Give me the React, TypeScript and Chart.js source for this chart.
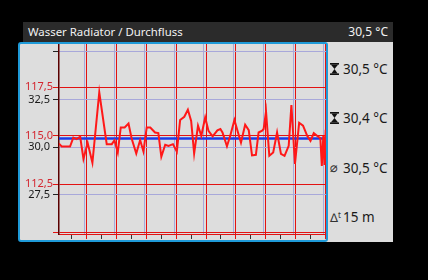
import React, { useEffect, useRef } from 'react';
import { Chart, registerables } from 'chart.js';

Chart.register(...registerables);

const FONT = '"Noto Sans", "DejaVu Sans", sans-serif';

const title = 'Wasser Radiator / Durchfluss';
const currentValue = '30,5 °C';
const statMax = '30,5 °C';
const statMin = '30,4 °C';
const statAvg = '30,5 °C';
const statSpan = '15 m';

// Durchfluss (red axis), time in seconds
const flowTimes = [
  7, 16, 44, 55, 66, 78, 89, 103, 119, 142,
  167, 184, 193, 204, 214, 227, 240, 251, 266, 279,
  290, 301, 313, 329, 340, 350, 363, 374, 389, 402,
  413, 427, 439, 450, 460, 473, 484, 497, 508, 522,
  538, 548, 555, 570, 581, 595, 607, 617, 631, 643,
  654, 667, 676, 688, 693, 701, 712, 725, 738, 751,
  763, 777, 786, 798, 812, 825, 839, 850, 861, 872,
  883, 888, 893, 897, 901,
];
const flowValues = [
  114.6, 114.45, 114.45, 114.91, 114.83, 114.95, 113.81, 114.64, 113.61, 117.24,
  114.57, 114.57, 114.77, 114.14, 115.43, 115.43, 115.63, 114.83, 114.09, 114.78,
  114.19, 115.43, 115.43, 115.17, 115.14, 113.92, 114.54, 114.48, 114.57, 114.19,
  115.81, 115.98, 116.34, 115.77, 114.09, 115.52, 115.0, 115.94, 115.26, 114.97,
  115.28, 115.35, 115.17, 114.46, 115.0, 115.81, 115.17, 114.65, 115.57, 115.29,
  113.99, 114.02, 115.17, 115.26, 115.35, 116.25, 113.97, 114.14, 115.17, 114.07,
  113.97, 114.48, 116.58, 113.55, 115.67, 115.52, 115.0, 114.74, 115.14, 115.0,
  114.87, 113.45, 115.0, 113.5, 115.31,
];

// Temperatur (black axis)
const tempTimes = [7, 902];
const tempValues = [30.46, 30.46];

const xMajorTicks = [100, 200, 300, 400, 500, 600, 700, 800, 900];
const xMinorTicks = [50, 150, 250, 350, 450, 550, 650, 750, 850];
const flowTicks = [110, 112.5, 115, 117.5];
const flowTickLabels = ['', '112,5', '115,0', '117,5'];
const tempTicks = [27.5, 30, 32.5, 35];
const tempTickLabels = ['27,5', '30,0', '32,5', ''];

const RED = 'rgb(226,18,18)';
const RED_TEXT = 'rgb(212,38,48)';
const LAVENDER = 'rgb(168,168,218)';

function IconMax() {
  return (
    <svg width="9" height="12" viewBox="0 0 9 12" style={{ display: 'block' }}>
      <rect x="0" y="0" width="9" height="1.6" fill="#111" />
      <polygon points="0.8,1.6 8.2,1.6 4.5,6" fill="#111" />
      <polygon points="4.5,6 7.6,10.4 1.4,10.4" fill="#111" />
      <rect x="0" y="10.4" width="9" height="1.6" fill="#111" />
    </svg>
  );
}

function IconMin() {
  return (
    <svg width="9" height="12" viewBox="0 0 9 12" style={{ display: 'block' }}>
      <rect x="0" y="0" width="9" height="1.6" fill="#111" />
      <polygon points="1.4,1.6 7.6,1.6 4.5,6" fill="#111" />
      <polygon points="4.5,6 8.2,10.4 0.8,10.4" fill="#111" />
      <rect x="0" y="10.4" width="9" height="1.6" fill="#111" />
    </svg>
  );
}

const noPad = (s: any) => {
  s.paddingTop = 0;
  s.paddingBottom = 0;
  s.paddingLeft = 0;
  s.paddingRight = 0;
};

const labelAreaPlugin = {
  id: 'labelArea',
  afterLayout(chart: any) {
    const s = chart.scales.y;
    if (s) s.left = s.right - 39;
  },
};

export default function App() {
  const ref = useRef<HTMLCanvasElement>(null);

  useEffect(() => {
    const chart = new Chart(ref.current as HTMLCanvasElement, {
      type: 'line',
      data: {
        datasets: [
          {
            data: flowTimes.map((t, i) => ({ x: t, y: flowValues[i] })),
            borderColor: 'rgb(255,24,24)',
            borderWidth: 2,
            pointRadius: 0,
            tension: 0,
            xAxisID: 'x',
            yAxisID: 'y',
            order: 0,
          },
          {
            data: tempTimes.map((t, i) => ({ x: t, y: tempValues[i] })),
            borderColor: 'rgb(28,58,230)',
            borderWidth: 2.5,
            pointRadius: 0,
            tension: 0,
            xAxisID: 'x',
            yAxisID: 'y2',
            order: 1,
          },
        ],
      },
      plugins: [labelAreaPlugin],
      options: {
        animation: false,
        responsive: false,
        maintainAspectRatio: false,
        events: [],
        layout: { padding: 0 },
        plugins: { legend: { display: false }, tooltip: { enabled: false } },
        scales: {
          x: {
            type: 'linear',
            position: 'bottom',
            min: 7,
            max: 902,
            afterBuildTicks: (s: any) => {
              s.ticks = [...xMinorTicks, ...xMajorTicks].sort((a, b) => a - b).map((v) => ({ value: v }));
            },
            afterFit: (s: any) => {
              s.height = 6;
              noPad(s);
            },
            ticks: { display: false },
            grid: {
              color: (ctx: any) => (ctx.tick && xMajorTicks.includes(ctx.tick.value) ? RED : 'rgba(0,0,0,0)'),
              tickColor: (ctx: any) => (ctx.tick && xMajorTicks.includes(ctx.tick.value) ? RED : '#333'),
              tickLength: 5,
              lineWidth: 1,
            },
            border: { display: true, color: RED, width: 1 },
          },
          x2: {
            type: 'linear',
            position: 'bottom',
            min: 14,
            max: 909,
            afterBuildTicks: (s: any) => {
              s.ticks = xMajorTicks.map((v) => ({ value: v }));
            },
            afterFit: (s: any) => {
              s.height = 0;
              noPad(s);
            },
            ticks: { display: false },
            grid: { color: LAVENDER, drawTicks: false, lineWidth: 1 },
            border: { display: false },
          },
          y: {
            type: 'linear',
            position: 'left',
            weight: 0,
            min: 109.94,
            max: 119.73,
            afterBuildTicks: (s: any) => {
              s.ticks = flowTicks.map((v) => ({ value: v }));
            },
            afterFit: (s: any) => {
              s.width = 0;
              noPad(s);
            },
            ticks: {
              color: RED_TEXT,
              padding: 0,
              autoSkip: false,
              font: { family: FONT, size: 11 },
              callback: (_v: any, i: number) => flowTickLabels[i],
            },
            grid: { color: RED, tickColor: RED, tickLength: 6, lineWidth: 1 },
            border: { display: true, color: '#5a0000', width: 1.5 },
          },
          y2: {
            type: 'linear',
            position: 'left',
            weight: 1,
            min: 25.44,
            max: 35.42,
            afterBuildTicks: (s: any) => {
              s.ticks = tempTicks.map((v) => ({ value: v }));
            },
            afterFit: (s: any) => {
              s.width = 39;
              noPad(s);
            },
            ticks: {
              color: '#1a1a1a',
              padding: 3,
              autoSkip: false,
              font: { family: FONT, size: 11 },
              callback: (_v: any, i: number) => tempTickLabels[i],
            },
            grid: { color: LAVENDER, tickColor: '#222', tickLength: 6, lineWidth: 1 },
            border: { display: false },
          },
        },
      },
    } as any);
    return () => chart.destroy();
  }, []);

  const statRow = (top: number, icon: React.ReactNode, text: string) => (
    <div
      style={{
        position: 'absolute',
        left: 330,
        top: top - 9,
        height: 18,
        display: 'flex',
        alignItems: 'center',
        fontFamily: FONT,
        fontSize: 13.5,
        color: '#1a1a1a',
        whiteSpace: 'nowrap',
      }}
    >
      <div style={{ width: 13, display: 'flex', alignItems: 'center' }}>{icon}</div>
      <span>{text}</span>
    </div>
  );

  return (
    <div style={{ position: 'fixed', left: 0, top: 0, width: 428, height: 280, background: '#000', overflow: 'hidden' }}>
      <div
        style={{
          position: 'absolute',
          left: 23,
          top: 22,
          width: 370,
          height: 20,
          background: '#2b2b2b',
          color: '#f2f2f2',
          fontFamily: FONT,
          fontSize: 11.4,
          lineHeight: '20px',
          boxSizing: 'border-box',
          padding: '0 5px',
          display: 'flex',
          justifyContent: 'space-between',
          whiteSpace: 'nowrap',
        }}
      >
        <span>{title}</span>
        <span style={{ fontSize: 12 }}>{currentValue}</span>
      </div>
      <div style={{ position: 'absolute', left: 23, top: 42, width: 370, height: 200, background: '#dddddd' }} />
      <div
        style={{
          position: 'absolute',
          left: 18,
          top: 42,
          width: 310,
          height: 200,
          boxSizing: 'border-box',
          border: '2px solid #1e9ad8',
          borderRadius: 3,
          background: '#dddddd',
        }}
      >
        <canvas ref={ref} width={306} height={196} style={{ display: 'block', width: 306, height: 196 }} />
      </div>
      {statRow(69, <IconMax />, statMax)}
      {statRow(118, <IconMin />, statMin)}
      {statRow(
        168,
        <span style={{ fontFamily: '"DejaVu Sans", sans-serif', fontSize: 13, color: '#333', lineHeight: '14px' }}>⌀</span>,
        statAvg,
      )}
      {statRow(
        217,
        <span style={{ fontSize: 12, color: '#333', position: 'relative' }}>
          ∆<span style={{ fontSize: 8, position: 'relative', top: -4 }}>t</span>
        </span>,
        statSpan,
      )}
    </div>
  );
}
